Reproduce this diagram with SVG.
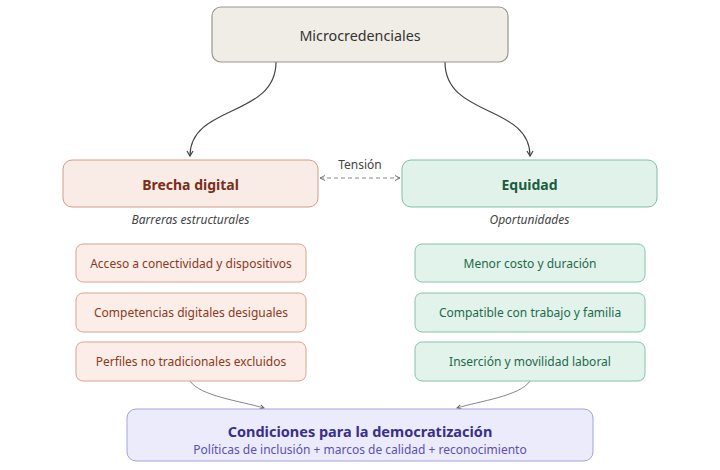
<svg xmlns="http://www.w3.org/2000/svg" width="720" height="470" viewBox="0 0 720 470">
<defs>
<marker id="ah" markerWidth="8" markerHeight="8" refX="6" refY="4" orient="auto" markerUnits="userSpaceOnUse">
<path d="M1,1 L6,4 L1,7" fill="none" stroke="#444" stroke-width="1.2"/>
</marker>
<marker id="ahs" markerWidth="6" markerHeight="6" refX="5" refY="3" orient="auto" markerUnits="userSpaceOnUse">
<path d="M1,1 L5,3 L1,5" fill="none" stroke="#666" stroke-width="1"/>
</marker>
<marker id="ahd" markerWidth="8" markerHeight="8" refX="6" refY="4" orient="auto-start-reverse" markerUnits="userSpaceOnUse">
<path d="M1,1.5 L6,4 L1,6.5" fill="none" stroke="#777" stroke-width="1"/>
</marker>
</defs>
<style>
text{font-family:"Noto Sans","Open Sans","DejaVu Sans",sans-serif;text-anchor:middle;dominant-baseline:central}
.root{fill:#f0ede6;stroke:#9a968e;stroke-width:1.2}
.red{fill:#f9ebe5;stroke:#d49a88;stroke-width:1}
.grn{fill:#e0f2ea;stroke:#7fbfa5;stroke-width:1}
.redi{fill:#fbede8;stroke:#d8a394;stroke-width:1}
.grni{fill:#e2f3ec;stroke:#86c2aa;stroke-width:1}
.pur{fill:#ebebfb;stroke:#a3a3e0;stroke-width:1}
.t-root{font-size:14.3px;fill:#333}
.t-red{font-size:14px;font-weight:bold;fill:#7a2e1a}
.t-grn{font-size:14px;font-weight:bold;fill:#1b5c40}
.t-redi{font-size:12px;fill:#8c3a22}
.t-grni{font-size:12px;fill:#1e6a4a}
.cap{font-size:12px;font-style:italic;fill:#444}
.lbl{font-size:12px;fill:#444}
.conn{fill:none;stroke:#444;stroke-width:1.2}
.conns{fill:none;stroke:#666;stroke-width:0.8}
</style>
<g id="connectors">
<path class="conn" d="M276,62 C276,118 190,104 190,156" marker-end="url(#ah)"/>
<path class="conn" d="M445,62 C445,118 530,104 530,156" marker-end="url(#ah)"/>
<path d="M320,178 L400,178" fill="none" stroke="#888" stroke-width="1" stroke-dasharray="4,3" marker-start="url(#ahd)" marker-end="url(#ahd)"/>
<text class="lbl" x="360" y="164">Tensión</text>
<path class="conns" d="M190,381 C200,396 240,401 264,408" marker-end="url(#ahs)"/>
<path class="conns" d="M530,381 C520,396 480,401 457,408" marker-end="url(#ahs)"/>
</g>
<g id="microcredenciales">
<rect class="root" x="212" y="7" width="296" height="55" rx="9"/>
<text class="t-root" x="360" y="35">Microcredenciales</text>
</g>
<g id="brecha">
<rect class="red" x="63" y="160" width="255" height="47" rx="9"/>
<text class="t-red" x="190.5" y="184">Brecha digital</text>
<text class="cap" x="190.5" y="219">Barreras estructurales</text>
</g>
<g id="equidad">
<rect class="grn" x="402" y="160" width="255" height="47" rx="9"/>
<text class="t-grn" x="529.5" y="184">Equidad</text>
<text class="cap" x="529.5" y="219">Oportunidades</text>
</g>
<g id="b1">
<rect class="redi" x="76" y="244" width="230" height="38" rx="7"/>
<text class="t-redi" x="191" y="263">Acceso a conectividad y dispositivos</text>
</g>
<g id="b2">
<rect class="redi" x="76" y="293" width="230" height="39" rx="7"/>
<text class="t-redi" x="191" y="312.5">Competencias digitales desiguales</text>
</g>
<g id="b3">
<rect class="redi" x="76" y="342" width="230" height="39" rx="7"/>
<text class="t-redi" x="191" y="361.5">Perfiles no tradicionales excluidos</text>
</g>
<g id="e1">
<rect class="grni" x="415" y="244" width="230" height="38" rx="7"/>
<text class="t-grni" x="530" y="263">Menor costo y duración</text>
</g>
<g id="e2">
<rect class="grni" x="415" y="293" width="230" height="39" rx="7"/>
<text class="t-grni" x="530" y="312.5">Compatible con trabajo y familia</text>
</g>
<g id="e3">
<rect class="grni" x="415" y="342" width="230" height="39" rx="7"/>
<text class="t-grni" x="530" y="361.5">Inserción y movilidad laboral</text>
</g>
<g id="condiciones">
<rect class="pur" x="127" y="409" width="466" height="52" rx="9"/>
<text x="360" y="430.5" style="font-size:14.5px;font-weight:bold;fill:#3a2f8a">Condiciones para la democratización</text>
<text x="360" y="449.5" style="font-size:12px;fill:#5b50b5">Políticas de inclusión + marcos de calidad + reconocimiento</text>
</g>
</svg>
